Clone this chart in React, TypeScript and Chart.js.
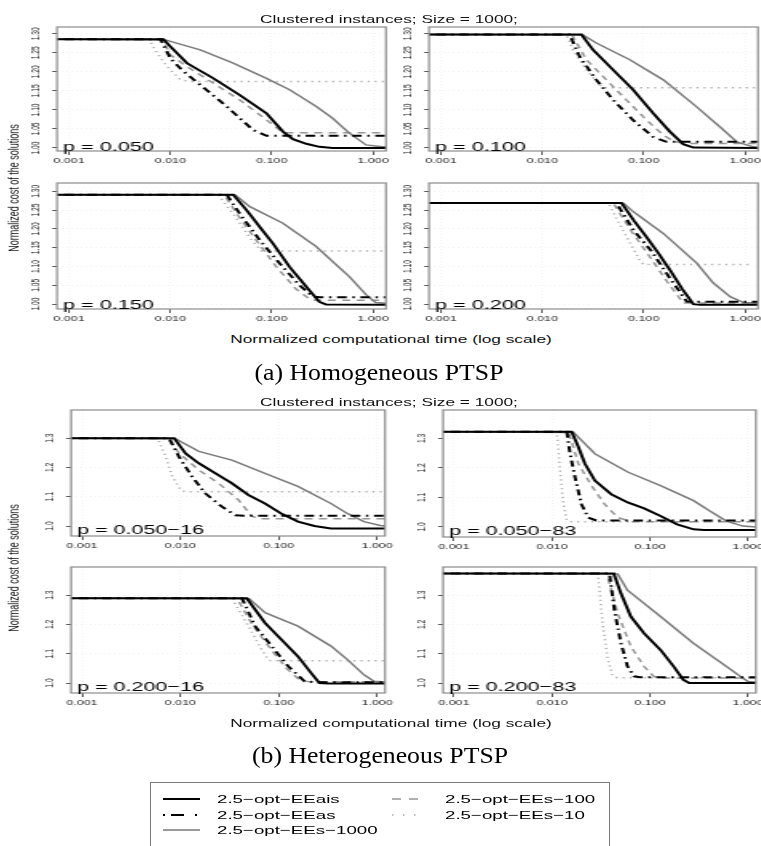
import React, { useEffect, useRef } from "react";
import { Chart, registerables } from "chart.js";
Chart.register(...registerables);

const FONT = '"Liberation Sans", Arial, Helvetica, sans-serif';
const SERIF = '"Liberation Serif", "Times New Roman", serif';
const S = 1.6; // horizontal stretch of the original figure

// ---------------- data ----------------
const X_TICKS = [0.001, 0.01, 0.1, 1];
const Y_TICKS_A = [1.0, 1.05, 1.1, 1.15, 1.2, 1.25, 1.3];
const Y_TICKS_B = [1.0, 1.1, 1.2, 1.3];
const SERIES_NAMES = ["2.5\u2212opt\u2212EEais", "2.5\u2212opt\u2212EEas", "2.5\u2212opt\u2212EEs\u22121000", "2.5\u2212opt\u2212EEs\u2212100", "2.5\u2212opt\u2212EEs\u221210"];
const TITLE = "Clustered instances; Size = 1000;";
const X_TITLE = "Normalized computational time (log scale)";
const Y_TITLE = "Normalized cost of the solutions";
const CAPTION_A = "(a) Homogeneous PTSP";
const CAPTION_B = "(b) Heterogeneous PTSP";
const LABELS_A = ["p = 0.050", "p = 0.100", "p = 0.150", "p = 0.200"];
const LABELS_B = ["p = 0.050\u221216", "p = 0.050\u221283", "p = 0.200\u221216", "p = 0.200\u221283"];

// (a) p = 0.050
const A1_EEais = [[0.00075,1.286],[0.00851,1.286],[0.0100,1.267],[0.0146,1.223],[0.0266,1.183],[0.0485,1.139],[0.0887,1.091],[0.129,1.043],[0.162,1.023],[0.219,1.011],[0.295,1.003],[0.398,1.0],[1.35,1.0]];
const A1_EEas = [[0.00075,1.286],[0.00798,1.286],[0.0100,1.236],[0.0130,1.205],[0.0197,1.166],[0.0360,1.109],[0.0656,1.047],[0.0887,1.032],[1.35,1.032]];
const A1_EEs1000 = [[0.00075,1.286],[0.00893,1.284],[0.0197,1.258],[0.0417,1.223],[0.0887,1.183],[0.150,1.153],[0.275,1.109],[0.399,1.078],[0.582,1.039],[0.851,1.008],[1.23,1.003],[1.35,1.003]];
const A1_EEs100 = [[0.00075,1.286],[0.0083,1.286],[0.0100,1.245],[0.0146,1.214],[0.0266,1.170],[0.0485,1.126],[0.0887,1.074],[0.129,1.040],[1.35,1.040]];
const A1_EEs10 = [[0.00075,1.286],[0.00612,1.286],[0.00741,1.249],[0.00929,1.214],[0.0126,1.179],[0.0158,1.175],[1.35,1.175]];
// (a) p = 0.100
const A2_EEais = [[0.00075,1.298],[0.0243,1.298],[0.0316,1.258],[0.0501,1.205],[0.0785,1.153],[0.124,1.091],[0.181,1.043],[0.245,1.010],[0.309,1.001],[1.35,1.0]];
const A2_EEas = [[0.00075,1.298],[0.0186,1.298],[0.0233,1.24],[0.0341,1.179],[0.0501,1.126],[0.0785,1.073],[0.124,1.029],[0.168,1.016],[1.35,1.016]];
const A2_EEs1000 = [[0.00075,1.298],[0.0251,1.297],[0.0341,1.276],[0.0729,1.232],[0.156,1.179],[0.333,1.108],[0.566,1.055],[0.828,1.016],[1.20,1.003],[1.35,1.002]];
const A2_EEs100 = [[0.00075,1.298],[0.0195,1.298],[0.0272,1.232],[0.0429,1.179],[0.0676,1.126],[0.107,1.073],[0.156,1.034],[0.195,1.018],[0.251,1.012],[1.35,1.012]];
const A2_EEs10 = [[0.00075,1.298],[0.0172,1.298],[0.0200,1.258],[0.0272,1.205],[0.0368,1.166],[0.0407,1.158],[1.35,1.158]];
// (a) p = 0.150
const A3_EEais = [[0.00075,1.291],[0.0418,1.291],[0.0565,1.250],[0.0762,1.205],[0.103,1.161],[0.150,1.099],[0.219,1.046],[0.295,1.006],[0.344,0.999],[1.35,0.998]];
const A3_EEas = [[0.00075,1.291],[0.0360,1.291],[0.0485,1.24],[0.0762,1.17],[0.120,1.108],[0.188,1.05],[0.254,1.02],[0.30,1.018],[1.35,1.018]];
const A3_EEs1000 = [[0.00075,1.291],[0.0437,1.290],[0.0608,1.259],[0.129,1.215],[0.274,1.153],[0.582,1.073],[0.851,1.025],[1.06,1.004],[1.35,1.002]];
const A3_EEs100 = [[0.00075,1.291],[0.0339,1.291],[0.0468,1.235],[0.0724,1.165],[0.112,1.098],[0.174,1.04],[0.240,1.012],[0.28,1.010],[1.35,1.010]];
const A3_EEs10 = [[0.00075,1.291],[0.0295,1.291],[0.0417,1.24],[0.0631,1.17],[0.0794,1.141],[1.35,1.141]];
// (a) p = 0.200
const A4_EEais = [[0.00075,1.269],[0.0603,1.269],[0.0800,1.222],[0.106,1.179],[0.140,1.135],[0.181,1.091],[0.240,1.040],[0.309,1.0],[0.36,0.998],[1.35,0.998]];
const A4_EEas = [[0.00075,1.269],[0.0537,1.269],[0.0800,1.195],[0.120,1.14],[0.180,1.07],[0.265,1.007],[0.32,1.006],[1.35,1.006]];
const A4_EEs1000 = [[0.00075,1.269],[0.0631,1.268],[0.0785,1.246],[0.156,1.188],[0.333,1.109],[0.486,1.056],[0.711,1.02],[0.964,1.004],[1.35,1.002]];
const A4_EEs100 = [[0.00075,1.269],[0.0501,1.269],[0.0750,1.195],[0.112,1.13],[0.170,1.06],[0.245,1.003],[1.35,1.003]];
const A4_EEs10 = [[0.00075,1.269],[0.0447,1.269],[0.0676,1.179],[0.0912,1.117],[0.100,1.105],[1.12,1.105]];
// (b) p = 0.050-16
const B1_EEais = [[0.00077,1.300],[0.00865,1.300],[0.0113,1.248],[0.0154,1.214],[0.0227,1.18],[0.0334,1.146],[0.0492,1.106],[0.0724,1.077],[0.106,1.043],[0.157,1.015],[0.231,1.0],[0.339,0.992],[1.25,0.992]];
const B1_EEas = [[0.00077,1.300],[0.00769,1.300],[0.0097,1.236],[0.0132,1.168],[0.0180,1.111],[0.0265,1.066],[0.0361,1.037],[0.0447,1.035],[1.25,1.035]];
const B1_EEs1000 = [[0.00077,1.300],[0.00891,1.298],[0.0154,1.255],[0.0334,1.225],[0.0724,1.18],[0.157,1.135],[0.339,1.077],[0.499,1.043],[0.735,1.015],[1.08,1.002],[1.25,1.0]];
const B1_EEs100 = [[0.00077,1.300],[0.00741,1.300],[0.0097,1.249],[0.0154,1.191],[0.0245,1.146],[0.0390,1.089],[0.0531,1.034],[0.0631,1.025],[1.25,1.025]];
const B1_EEs10 = [[0.00077,1.300],[0.00586,1.300],[0.00711,1.236],[0.00832,1.168],[0.0101,1.123],[0.0112,1.117],[1.25,1.117]];
// (b) p = 0.050-83
const B2_EEais = [[0.00077,1.322],[0.0159,1.322],[0.0186,1.271],[0.0217,1.214],[0.0274,1.157],[0.0402,1.111],[0.0592,1.083],[0.0871,1.063],[0.128,1.037],[0.189,1.009],[0.278,0.992],[0.355,0.99],[1.25,0.99]];
const B2_EEas = [[0.00077,1.322],[0.0142,1.322],[0.0153,1.248],[0.0172,1.168],[0.0200,1.077],[0.0234,1.032],[0.0282,1.022],[1.25,1.022]];
const B2_EEs1000 = [[0.00077,1.322],[0.0166,1.320],[0.0274,1.248],[0.0592,1.186],[0.128,1.14],[0.278,1.089],[0.408,1.054],[0.601,1.02],[0.885,1.003],[1.25,1.0]];
const B2_EEs100 = [[0.00077,1.322],[0.0148,1.322],[0.0186,1.214],[0.0253,1.14],[0.0344,1.077],[0.0470,1.032],[0.0640,1.018],[1.25,1.018]];
const B2_EEs10 = [[0.00077,1.322],[0.0112,1.322],[0.0121,1.191],[0.0131,1.077],[0.0142,1.02],[0.0158,1.018],[1.25,1.018]];
// (b) p = 0.200-16
const B3_EEais = [[0.00077,1.289],[0.0474,1.289],[0.0575,1.251],[0.0726,1.205],[0.107,1.148],[0.157,1.091],[0.214,1.034],[0.259,1.0],[0.316,0.998],[1.25,0.998]];
const B3_EEas = [[0.00077,1.289],[0.0423,1.289],[0.0575,1.194],[0.0847,1.126],[0.125,1.057],[0.183,1.006],[0.224,1.003],[1.25,1.003]];
const B3_EEs1000 = [[0.00077,1.289],[0.0501,1.288],[0.0726,1.24],[0.157,1.194],[0.340,1.126],[0.500,1.08],[0.736,1.028],[0.929,1.006],[1.25,1.003]];
const B3_EEs100 = [[0.00077,1.289],[0.0377,1.289],[0.0537,1.2],[0.0813,1.12],[0.120,1.05],[0.166,1.008],[0.21,1.004],[1.25,1.004]];
const B3_EEs10 = [[0.00077,1.289],[0.0335,1.289],[0.0493,1.194],[0.0671,1.114],[0.0783,1.08],[0.0832,1.076],[1.25,1.076]];
// (b) p = 0.200-83
const B4_EEais = [[0.00077,1.374],[0.0427,1.374],[0.0505,1.306],[0.0637,1.227],[0.0869,1.17],[0.128,1.113],[0.174,1.057],[0.219,1.011],[0.251,1.0],[1.25,1.0]];
const B4_EEas = [[0.00077,1.374],[0.0386,1.374],[0.0434,1.248],[0.0506,1.136],[0.0589,1.057],[0.0689,1.023],[0.0794,1.02],[1.25,1.02]];
const B4_EEs1000 = [[0.00077,1.374],[0.0468,1.372],[0.0589,1.317],[0.128,1.227],[0.277,1.136],[0.598,1.057],[0.879,1.017],[1.0,1.005],[1.25,1.002]];
const B4_EEs100 = [[0.00077,1.374],[0.0363,1.374],[0.0468,1.238],[0.0637,1.125],[0.0869,1.057],[0.109,1.023],[0.126,1.017],[1.25,1.017]];
const B4_EEs10 = [[0.00077,1.374],[0.0294,1.374],[0.0331,1.194],[0.0372,1.08],[0.0417,1.023],[0.0468,1.018],[1.25,1.018]];

// ---------------- styles & layout ----------------
const SERIES_STYLE = [
  { color: "#000000", width: 2, dash: [] as number[] },
  { color: "#000000", width: 2, dash: [1.5, 3.5, 6, 3.5] },
  { color: "#7a7a7a", width: 1.5, dash: [] as number[] },
  { color: "#969696", width: 1.5, dash: [5, 4] },
  { color: "#ababab", width: 1.5, dash: [1.2, 3.2] },
];

type Spec = {
  L: number; T: number; R: number; B: number; rp: number;
  xmin: number; xmax: number; ymin: number; ymax: number;
  yticks: number[]; ydec: number; label: string; labelDy: number;
  series: number[][][];
};

const XA = { xmin: 0.000764, xmax: 1.34 };
const XB = { xmin: 0.000773, xmax: 1.205 };

const PANELS: Spec[] = [
  { L: 57, T: 27, R: 385.5, B: 151, rp: 6, ...XA, ymin: 0.992, ymax: 1.318, yticks: Y_TICKS_A, ydec: 2, label: LABELS_A[0], labelDy: 0.5, series: [A1_EEais, A1_EEas, A1_EEs1000, A1_EEs100, A1_EEs10] },
  { L: 429, T: 27, R: 757.5, B: 151, rp: 6, ...XA, ymin: 0.992, ymax: 1.318, yticks: Y_TICKS_A, ydec: 2, label: LABELS_A[1], labelDy: 0.5, series: [A2_EEais, A2_EEas, A2_EEs1000, A2_EEs100, A2_EEs10] },
  { L: 57, T: 183, R: 385.5, B: 309, rp: 6, ...XA, ymin: 0.987, ymax: 1.322, yticks: Y_TICKS_A, ydec: 2, label: LABELS_A[2], labelDy: 0.5, series: [A3_EEais, A3_EEas, A3_EEs1000, A3_EEs100, A3_EEs10] },
  { L: 429, T: 183, R: 757.5, B: 309, rp: 6, ...XA, ymin: 0.987, ymax: 1.322, yticks: Y_TICKS_A, ydec: 2, label: LABELS_A[3], labelDy: 0.5, series: [A4_EEais, A4_EEas, A4_EEs1000, A4_EEs100, A4_EEs10] },
  { L: 71, T: 410, R: 385, B: 536, rp: 10, ...XB, ymin: 0.966, ymax: 1.396, yticks: Y_TICKS_B, ydec: 1, label: LABELS_B[0], labelDy: 2.5, series: [B1_EEais, B1_EEas, B1_EEs1000, B1_EEs100, B1_EEs10] },
  { L: 443, T: 410, R: 756, B: 536.5, rp: 10, ...XB, ymin: 0.966, ymax: 1.396, yticks: Y_TICKS_B, ydec: 1, label: LABELS_B[1], labelDy: 2.5, series: [B2_EEais, B2_EEas, B2_EEs1000, B2_EEs100, B2_EEs10] },
  { L: 71, T: 567, R: 385, B: 693, rp: 10, ...XB, ymin: 0.966, ymax: 1.396, yticks: Y_TICKS_B, ydec: 1, label: LABELS_B[2], labelDy: 2.5, series: [B3_EEais, B3_EEas, B3_EEs1000, B3_EEs100, B3_EEs10] },
  { L: 443, T: 567, R: 756, B: 693, rp: 10, ...XB, ymin: 0.966, ymax: 1.396, yticks: Y_TICKS_B, ydec: 1, label: LABELS_B[3], labelDy: 2.5, series: [B4_EEais, B4_EEas, B4_EEs1000, B4_EEs100, B4_EEs10] },
];

const LEFT_AXIS = 45; // display px left of box
const TOP_PAD = 3;
const BOTTOM_AXIS = 22;

function geometry(p: Spec) {
  const dispW = p.R - p.L + LEFT_AXIS + p.rp;
  const iw = Math.round(dispW / S);
  const k = dispW / iw;
  const dispH = Math.round(p.B - p.T + TOP_PAD + BOTTOM_AXIS);
  return { dispW, iw, k, dispH, left: p.L - LEFT_AXIS, top: p.T - TOP_PAD };
}

function decorPlugin(p: Spec, k: number) {
  return {
    id: "panelDecor",
    afterDatasetsDraw(chart: any) {
      const { ctx, chartArea: a } = chart;
      ctx.save();
      ctx.strokeStyle = "#8c8c8c";
      ctx.lineWidth = 1.2;
      ctx.setLineDash([]);
      ctx.strokeRect(a.left, a.top, a.right - a.left, a.bottom - a.top);
      ctx.restore();
    },
    afterDraw(chart: any) {
      const { ctx, chartArea: a, scales } = chart;
      const ys = scales.y;
      ctx.save();
      ctx.fillStyle = "#222";
      ctx.font = `6.7px ${FONT}`;
      ctx.textAlign = "center";
      ctx.textBaseline = "middle";
      for (const t of ys.ticks) {
        const py = ys.getPixelForValue(t.value);
        ctx.save();
        ctx.translate(a.left - 21 / k, py);
        ctx.rotate(-Math.PI / 2);
        ctx.fillText(Number(t.value).toFixed(p.ydec), 0, 0);
        ctx.restore();
      }
      ctx.fillStyle = "#000";
      ctx.font = `13.5px ${FONT}`;
      ctx.textAlign = "left";
      ctx.textBaseline = "alphabetic";
      ctx.fillText(p.label, a.left + 6 / k, a.bottom - p.labelDy);
      ctx.restore();
    },
  };
}

function makeConfig(p: Spec, k: number): any {
  return {
    type: "line",
    data: {
      datasets: p.series.map((pts, i) => ({
        label: SERIES_NAMES[i],
        data: pts.map(([x, y]) => ({ x, y })),
        borderColor: SERIES_STYLE[i].color,
        borderWidth: SERIES_STYLE[i].width,
        borderDash: SERIES_STYLE[i].dash,
        pointRadius: 0,
        fill: false,
        tension: 0,
      })),
    },
    options: {
      animation: false,
      responsive: false,
      devicePixelRatio: 1,
      events: [],
      layout: { padding: { left: 0, right: p.rp / k, top: TOP_PAD, bottom: 0 } },
      plugins: { legend: { display: false }, tooltip: { enabled: false }, title: { display: false } },
      scales: {
        x: {
          type: "logarithmic",
          min: p.xmin,
          max: p.xmax,
          afterBuildTicks: (s: any) => { s.ticks = X_TICKS.map((v) => ({ value: v })); },
          afterFit: (s: any) => { s.height = BOTTOM_AXIS; s.paddingLeft = 0; s.paddingRight = 0; },
          ticks: {
            autoSkip: false, maxRotation: 0, minRotation: 0, padding: 1,
            color: "#1a1a1a", font: { family: FONT, size: 7.8 },
            callback: (v: any) => Number(v).toFixed(3),
          },
          grid: { color: "#f3f3f3", lineWidth: 1, tickColor: "#555", tickLength: 4, drawOnChartArea: true },
          border: { display: false, dash: [1, 2] },
        },
        y: {
          type: "linear",
          min: p.ymin,
          max: p.ymax,
          afterBuildTicks: (s: any) => { s.ticks = p.yticks.map((v) => ({ value: v })); },
          afterFit: (s: any) => { s.width = LEFT_AXIS / k; },
          ticks: { display: false },
          grid: { color: "#f3f3f3", lineWidth: 1, tickColor: "#555", tickLength: 3, drawOnChartArea: true },
          border: { display: false, dash: [1, 2] },
        },
      },
    },
    plugins: [decorPlugin(p, k)],
  };
}

function Panel({ spec }: { spec: Spec }) {
  const ref = useRef<HTMLCanvasElement | null>(null);
  const g = geometry(spec);
  useEffect(() => {
    const chart = new Chart(ref.current as HTMLCanvasElement, makeConfig(spec, g.k));
    return () => chart.destroy();
  }, [spec]);
  return (
    <canvas
      ref={ref}
      width={g.iw}
      height={g.dispH}
      style={{ position: "absolute", left: g.left, top: g.top, width: g.dispW, height: g.dispH }}
    />
  );
}

function Txt({ x, y, text, size, family = FONT, sx = S, anchor = "middle", rotate = false, color = "#111" }: any) {
  const outer: React.CSSProperties = {
    position: "absolute", left: x, top: y, width: 0, height: 0,
    transformOrigin: "0 0",
    transform: rotate ? `scaleX(${sx}) rotate(-90deg)` : `scaleX(${sx})`,
  };
  const inner: React.CSSProperties = {
    position: "absolute", whiteSpace: "nowrap", fontFamily: family, fontSize: size,
    lineHeight: `${size}px`, color, top: -0.845 * size,
    ...(anchor === "middle" ? { left: -1000, width: 2000, textAlign: "center" as const } : { left: 0 }),
  };
  return (
    <div style={outer}>
      <div style={inner}>{text}</div>
    </div>
  );
}

const LEGEND_POS = [
  { col: 0, row: 0 }, { col: 0, row: 1 }, { col: 0, row: 2 }, { col: 1, row: 0 }, { col: 1, row: 1 },
];
const LEGEND_COL_LINE = [[163, 200], [392, 418]];
const LEGEND_COL_TEXT = [216.7, 445];
const LEGEND_ROW_Y = [799, 815, 830];
const LEGEND_DASH = ["", "2 6 13 11 2 10", "", "9 8", "1.5 9.5"];

function Legend() {
  return (
    <>
      <div style={{ position: "absolute", left: 150, top: 782, width: 460, height: 80, border: "1px solid #7a7a7a", boxSizing: "border-box" }} />
      <svg width={761} height={846} style={{ position: "absolute", left: 0, top: 0 }}>
        {LEGEND_POS.map((pos, i) => (
          <line
            key={i}
            x1={LEGEND_COL_LINE[pos.col][0]} x2={LEGEND_COL_LINE[pos.col][1]}
            y1={LEGEND_ROW_Y[pos.row]} y2={LEGEND_ROW_Y[pos.row]}
            stroke={SERIES_STYLE[i].color} strokeWidth={SERIES_STYLE[i].width}
            strokeDasharray={LEGEND_DASH[i] || undefined}
          />
        ))}
      </svg>
      {LEGEND_POS.map((pos, i) => (
        <Txt key={i} x={LEGEND_COL_TEXT[pos.col]} y={LEGEND_ROW_Y[pos.row] + 4} text={SERIES_NAMES[i]} size={11.7} anchor="start" color="#000" />
      ))}
    </>
  );
}

export default function App() {
  return (
    <div style={{ position: "absolute", left: 0, top: 0, width: 761, height: 846, background: "#fff", overflow: "hidden" }}>
      {PANELS.map((p, i) => <Panel key={i} spec={p} />)}
      <Txt x={389} y={22.7} text={TITLE} size={10.8} />
      <Txt x={391} y={342.7} text={X_TITLE} size={10.8} />
      <Txt x={20} y={187.5} text={Y_TITLE} size={9} rotate />
      <Txt x={379} y={380} text={CAPTION_A} size={23} family={SERIF} sx={1.12} color="#000" />
      <Txt x={389} y={406} text={TITLE} size={10.8} />
      <Txt x={391} y={726.7} text={X_TITLE} size={10.8} />
      <Txt x={20} y={567.5} text={Y_TITLE} size={9} rotate />
      <Txt x={380} y={763} text={CAPTION_B} size={23} family={SERIF} sx={1.12} color="#000" />
      <Legend />
    </div>
  );
}
